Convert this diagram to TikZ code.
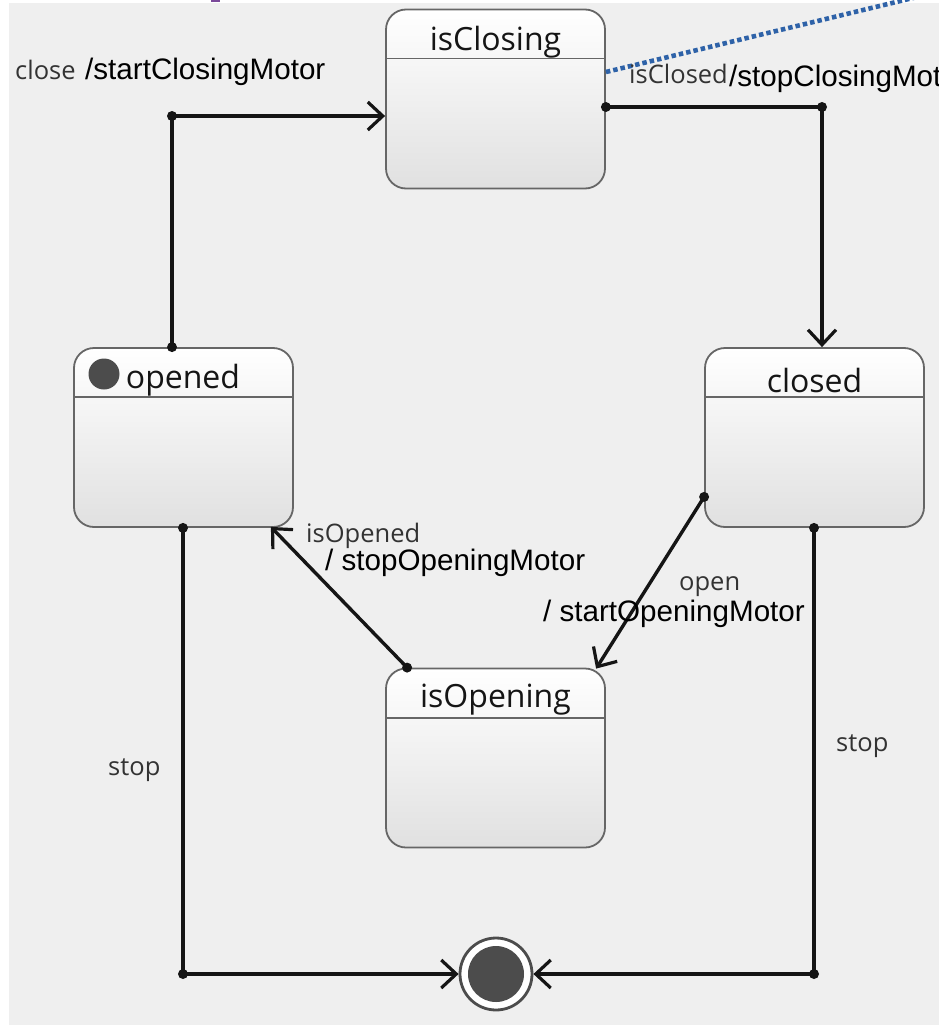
\documentclass[tikz,border=0pt]{standalone}
\usepackage{fontspec}
\setmainfont{Liberation Sans}
\newfontfamily\uifont{Open Sans}
\usetikzlibrary{arrows.meta,calc}

\definecolor{canvas}{HTML}{EFEFEF}
\definecolor{boxline}{HTML}{666666}
\definecolor{ink}{HTML}{151515}
\definecolor{trig}{HTML}{333333}
\definecolor{linkblue}{HTML}{2E62A8}
\definecolor{marker}{HTML}{7B4A9A}

\tikzset{
  statebox/.style={draw=boxline, line width=1.8pt, rounded corners=20pt,
    top color=white, bottom color=black!12,
    minimum width=219pt, minimum height=179pt, inner sep=0pt},
  statename/.style={font=\uifont\fontsize{32}{34}\selectfont, text=ink, inner sep=0pt},
  divider/.style={draw=boxline, line width=1.8pt},
  conn/.style={draw=ink, line width=3.4pt},
  arr/.style={conn, -{Straight Barb[length=15pt,width=28pt,line width=3.2pt]}},
  trigger/.style={font=\uifont\fontsize{25.5}{28}\selectfont, text=trig, inner sep=0pt, anchor=base west},
  action/.style={font=\fontsize{29.6}{32}\selectfont, text=black, inner sep=0pt, anchor=base west},
}

\begin{document}
\begin{tikzpicture}[x=1pt,y=-1pt]
  \useasboundingbox (0,0) rectangle (939,1025);
  \clip (0,0) rectangle (939,1025);
  \fill[white] (0,0) rectangle (939,1025);
  \fill[canvas] (9,3) rectangle (939,1025);
  \fill[marker] (211,0) rectangle (220,2.5);

  % states
  \node[statebox] (isClosing) at (495.5,99) {};
  \node[statebox] (opened)    at (183.5,437.5) {};
  \node[statebox] (closed)    at (814.5,437.5) {};
  \node[statebox] (isOpening) at (495.5,758) {};

  \foreach \s in {isClosing,opened,closed,isOpening}
    \draw[divider] ($(\s.north west)+(0,50)$) -- ($(\s.north east)+(0,50)$);

  \node[statename] (tClosing) at (495.5,42) {isClosing};
  \node[statename] (tOpened)  at (183,380) {opened};
  \node[statename] (tClosed)  at (814.5,380) {closed};
  \node[statename] (tOpening) at (495.5,700) {isOpening};
  \node[fill=black!70, circle, minimum size=31pt, inner sep=0pt] (initDot) at (104,374) {};

  % final state
  \node[circle, draw=black!70, line width=2.8pt, fill=white, minimum size=72pt, inner sep=0pt] (final) at (496,974) {};
  \node[circle, fill=black!70, minimum size=56pt, inner sep=0pt] (finalCore) at (final.center) {};

  % junction points
  \coordinate (jClose) at (172,116);
  \coordinate (jClosed) at (822,107);
  \coordinate (jStopL) at (183,974);
  \coordinate (jStopR) at (814,974);

  % opened -> isClosing
  \draw[arr] (opened.north -| jClose) -- (jClose) -- (isClosing.west |- jClose);
  % isClosing -> closed
  \draw[arr] (isClosing.east |- jClosed) -- (jClosed) -- (closed.north -| jClosed);
  % closed -> isOpening
  \coordinate (oStart) at ($(closed.south west)+(0,-31)$);
  \coordinate (oEnd) at ($(isOpening.north west)+(211,1)$);
  \draw[arr] (oStart) -- (oEnd);
  % isOpening -> opened
  \coordinate (bStart) at ($(isOpening.north west)+(22,0)$);
  \coordinate (bEnd) at ($(opened.south east)+(-23,-1)$);
  \draw[arr] (bStart) -- (bEnd);
  % stop transitions
  \draw[arr] (opened.south -| jStopL) -- (jStopL) -- (final.west);
  \draw[arr] (closed.south -| jStopR) -- (jStopR) -- (final.east);

  \foreach \p in {jClose,jClosed,jStopL,jStopR,oStart,bStart}
    \fill[ink] (\p) circle (5pt);
  \fill[ink] (opened.north -| jClose) circle (5pt);
  \fill[ink] (isClosing.east |- jClosed) circle (5pt);
  \fill[ink] (opened.south -| jStopL) circle (5pt);
  \fill[ink] (closed.south -| jStopR) circle (5pt);

  % dotted link leaving isClosing
  \coordinate (linkEnd) at (1000,-23);
  \draw[linkblue, line width=4.6pt, dash pattern=on 4.5pt off 3pt] (isClosing.east |- {(0,72)}) -- (linkEnd);

  % transition labels
  \node[trigger] (lClose) at (15,80) {close};
  \node[action]  (aClose) at (85,80) {/startClosingMotor};
  \node[trigger] (lClosed) at (629,83) {isClosed};
  \node[action]  (aClosed) at (729,86) {/stopClosingMotor};
  \node[trigger] (lOpened) at (306,542) {isOpened};
  \node[action]  (aOpened) at (325,570) {/ stopOpeningMotor};
  \node[trigger] (lOpen) at (679,590) {open};
  \node[action]  (aOpen) at (543,621) {/ startOpeningMotor};
  \node[trigger] (lStopL) at (108,775) {stop};
  \node[trigger] (lStopR) at (836,751) {stop};
\end{tikzpicture}
\end{document}
